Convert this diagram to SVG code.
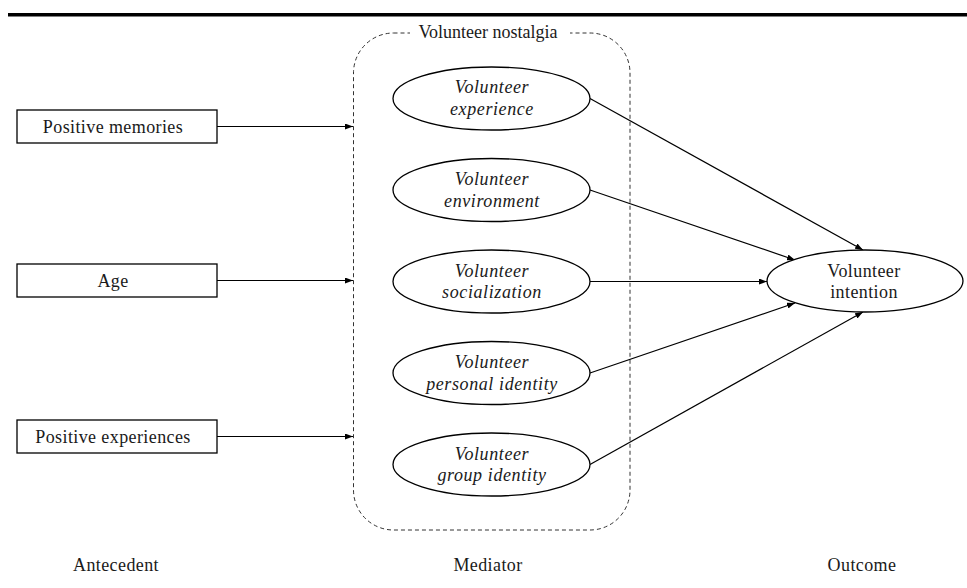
<svg xmlns="http://www.w3.org/2000/svg" width="967" height="588" viewBox="0 0 967 588">
  <style>
    .box { fill: #ffffff; stroke: #000000; stroke-width: 1.3; }
    .ell { fill: #ffffff; stroke: #000000; stroke-width: 1.3; }
    .lbl { font-family: "Liberation Serif", "Times New Roman", serif; font-size: 18px; fill: #1a1a1a; text-anchor: middle; letter-spacing: 0.4px; }
    .it { font-family: "Liberation Serif", "Times New Roman", serif; font-size: 18px; font-style: italic; fill: #1a1a1a; text-anchor: middle; letter-spacing: 0.6px; }
    .con { stroke: #000000; stroke-width: 1.2; fill: none; marker-end: url(#arr); }
    .grp { fill: none; stroke: #333333; stroke-width: 1; stroke-dasharray: 4 3; }
  </style>
  <defs>
    <marker id="arr" viewBox="0 0 8 6" refX="8" refY="3" markerWidth="8" markerHeight="6" markerUnits="userSpaceOnUse" orient="auto">
      <path d="M0,0 L8,3 L0,6 z" fill="#000000"/>
    </marker>
  </defs>
  <rect x="0" y="0" width="967" height="588" fill="#ffffff"/>
  <rect x="8" y="13" width="959" height="3.5" fill="#000000"/>

  <g id="volunteer-nostalgia">
    <rect class="grp" x="353.5" y="33" width="276.5" height="497" rx="40" ry="40"/>
    <rect x="410" y="22" width="160" height="22" fill="#ffffff"/>
    <text class="lbl" x="488" y="38" style="letter-spacing:0">Volunteer nostalgia</text>
  </g>

  <g id="connectors">
    <line class="con" x1="217" y1="126.5" x2="353" y2="126.5"/>
    <line class="con" x1="217" y1="280.5" x2="353" y2="280.5"/>
    <line class="con" x1="217" y1="436.5" x2="353" y2="436.5"/>
    <line class="con" x1="590" y1="98.5" x2="863" y2="250"/>
    <line class="con" x1="590" y1="190" x2="795" y2="260"/>
    <line class="con" x1="590" y1="281.5" x2="767" y2="281.5"/>
    <line class="con" x1="590" y1="373" x2="795" y2="303"/>
    <line class="con" x1="590" y1="464.5" x2="863" y2="312"/>
  </g>

  <g id="positive-memories">
    <rect class="box" x="17" y="110" width="200" height="33"/>
    <text class="lbl" x="113" y="133">Positive memories</text>
  </g>
  <g id="age">
    <rect class="box" x="17" y="264" width="200" height="33"/>
    <text class="lbl" x="113" y="287">Age</text>
  </g>
  <g id="positive-experiences">
    <rect class="box" x="17" y="420" width="200" height="33"/>
    <text class="lbl" x="113" y="443">Positive experiences</text>
  </g>

  <g id="volunteer-experience">
    <ellipse class="ell" cx="491.5" cy="98.5" rx="98.5" ry="31.5"/>
    <text class="it" x="492" y="93">Volunteer</text>
    <text class="it" x="492" y="115">experience</text>
  </g>
  <g id="volunteer-environment">
    <ellipse class="ell" cx="491.5" cy="190" rx="98.5" ry="31.5"/>
    <text class="it" x="492" y="185">Volunteer</text>
    <text class="it" x="492" y="207">environment</text>
  </g>
  <g id="volunteer-socialization">
    <ellipse class="ell" cx="491.5" cy="281.5" rx="98.5" ry="31.5"/>
    <text class="it" x="492" y="277">Volunteer</text>
    <text class="it" x="492" y="298">socialization</text>
  </g>
  <g id="volunteer-personal-identity">
    <ellipse class="ell" cx="491.5" cy="373" rx="98.5" ry="31.5"/>
    <text class="it" x="492" y="368">Volunteer</text>
    <text class="it" x="492" y="390">personal identity</text>
  </g>
  <g id="volunteer-group-identity">
    <ellipse class="ell" cx="491.5" cy="464.5" rx="98.5" ry="31.5"/>
    <text class="it" x="492" y="460">Volunteer</text>
    <text class="it" x="492" y="481">group identity</text>
  </g>

  <g id="volunteer-intention">
    <ellipse class="ell" cx="865" cy="281" rx="98" ry="31"/>
    <text class="lbl" x="864" y="277">Volunteer</text>
    <text class="lbl" x="864" y="298">intention</text>
  </g>

  <g id="stage-labels">
    <text class="lbl" x="116" y="571">Antecedent</text>
    <text class="lbl" x="488" y="571">Mediator</text>
    <text class="lbl" x="862" y="571">Outcome</text>
  </g>
</svg>
